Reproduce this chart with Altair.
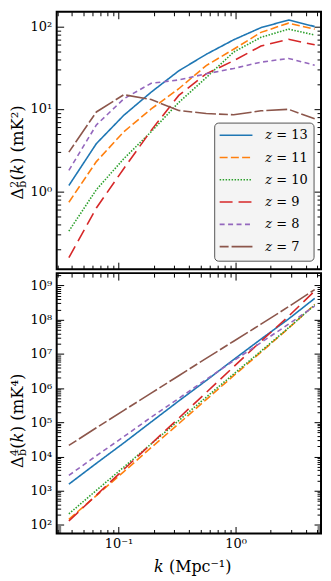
import altair as alt
import pandas as pd

# ---------------- data ----------------
k = [0.0376, 0.0646, 0.111, 0.190, 0.327, 0.561, 0.963, 1.65, 2.84, 4.75]
z_values = ["13", "11", "10", "9", "8", "7"]

delta2_z13 = [1.18, 3.8, 8.4, 16.0, 29.0, 46.0, 69.0, 97.0, 120.0, 100.0]
delta2_z11 = [0.74, 2.3, 5.3, 10.0, 17.6, 33.6, 53.0, 85.0, 110.0, 93.0]
delta2_z10 = [0.33, 1.05, 2.5, 5.3, 12.0, 24.0, 49.0, 74.0, 93.0, 79.0]
delta2_z9 = [0.157, 0.63, 1.9, 5.5, 14.6, 26.7, 38.5, 58.0, 70.0, 60.0]
delta2_z8 = [1.8, 6.4, 13.3, 20.5, 22.5, 26.7, 31.0, 37.0, 41.0, 34.0]
delta2_z7 = [3.0, 9.2, 14.9, 13.0, 9.6, 8.8, 8.5, 9.5, 9.9, 7.6]

delta4_z13 = [1.55e3, 6.3e3, 2.5e4, 1.02e5, 4.2e5, 1.66e6, 6.8e6, 2.7e7, 1.05e8, 4.2e8]
delta4_z11 = [1.45e2, 7.2e2, 3.6e3, 1.82e4, 9.1e4, 4.6e5, 2.3e6, 1.12e7, 5.6e7, 2.8e8]
delta4_z10 = [2.1e2, 1.02e3, 4.9e3, 2.34e4, 1.12e5, 5.4e5, 2.57e6, 1.2e7, 5.8e7, 2.7e8]
delta4_z9 = [1.3e2, 7.4e2, 4.2e3, 2.34e4, 1.32e5, 7.4e5, 4.2e6, 2.34e7, 1.26e8, 6.9e8]
delta4_z8 = [2.8e3, 1.05e4, 3.8e4, 1.41e5, 5.0e5, 1.78e6, 6.3e6, 2.14e7, 7.4e7, 2.5e8]
delta4_z7 = [2.1e4, 6.9e4, 2.24e5, 7.1e5, 2.3e6, 7.4e6, 2.34e7, 7.4e7, 2.4e8, 7.6e8]

x_major = [0.1, 1.0]
top_y_major = [1.0, 10.0, 100.0]
bot_y_major = [1e2, 1e3, 1e4, 1e5, 1e6, 1e7, 1e8, 1e9]

# ---------------- styles ----------------
colors = ["#1f77b4", "#ff7f0e", "#2ca02c", "#d62728", "#9467bd", "#8c564b"]
dashes = [[1, 0], [8, 3.3], [1.5, 1.5], [13, 6], [5, 3.5], [9, 3, 21, 3]]
FONT = "DejaVu Serif"
W = 266
H_TOP = 259
H_BOT = 262
X_DOMAIN = [0.02958, 5.38]
TOP_DOMAIN = [0.114, 151]
BOT_DOMAIN = [56, 2.3e9]


def long_table(tables):
    rows = []
    for z, vals in zip(z_values, tables):
        for kk, v in zip(k, vals):
            rows.append({"k": kk, "v": v, "z": z})
    return pd.DataFrame(rows)


def minors(lo, hi, e0, e1):
    out = []
    for e in range(e0, e1 + 1):
        for m in range(2, 10):
            v = m * 10.0 ** e
            if lo <= v <= hi:
                out.append(v)
    return out


df2 = long_table([delta2_z13, delta2_z11, delta2_z10, delta2_z9, delta2_z8, delta2_z7])
df4 = long_table([delta4_z13, delta4_z11, delta4_z10, delta4_z9, delta4_z8, delta4_z7])

x_minor = minors(X_DOMAIN[0], X_DOMAIN[1], -2, 0)
top_y_minor = minors(TOP_DOMAIN[0], TOP_DOMAIN[1], -1, 2)
bot_y_minor = minors(BOT_DOMAIN[0], BOT_DOMAIN[1], 1, 9)

SUP = ("['10⁻²','10⁻¹','10⁰','10¹','10²','10³','10⁴','10⁵','10⁶','10⁷','10⁸','10⁹']"
       "[round(log(datum.value)/LN10)+2]")

color_scale = alt.Scale(domain=z_values, range=colors)
dash_scale = alt.Scale(domain=z_values, range=dashes)
one = pd.DataFrame({"_": [0]})


def axis(orient, values, size, labels=False, pad=5):
    # negative tick size (via expression) draws the ticks inward
    kw = dict(orient=orient, values=values, tickSize=alt.ExprRef(expr=str(-size)),
              tickWidth=1, tickColor="black", domain=False, grid=False,
              labels=labels, title=None, ticks=True, minExtent=0)
    if labels:
        kw.update(labelExpr=SUP, labelFont=FONT, labelFontSize=13,
                  labelColor="black", labelPadding=pad + size, labelFlush=False,
                  labelOverlap=False, labelBound=False)
    return alt.Axis(**kw)


def text_piece(txt, x, y, size, style="normal", angle=0, align="left", baseline="alphabetic"):
    return alt.Chart(one).mark_text(
        text=txt, font=FONT, fontSize=size, fontStyle=style, angle=angle,
        align=align, baseline=baseline, color="black"
    ).encode(x=alt.value(x), y=alt.value(y))


def ytitle(start_y, exp_digit, exp_sup):
    bx = -33.5
    F = 16.5
    s = 11
    layers = []
    y = start_y
    layers.append(text_piece("Δ", bx, y, F, angle=270))
    y -= 0.72 * F
    layers.append(text_piece(exp_digit, bx - 5.0, y, s, angle=270))
    layers.append(text_piece("b", bx + 3.0, y, s, angle=270))
    y -= 0.66 * s
    layers.append(text_piece("(", bx, y, F, angle=270))
    y -= 0.39 * F
    layers.append(text_piece("k", bx, y, F, style="italic", angle=270))
    y -= 0.62 * F
    layers.append(text_piece(") (mK" + exp_sup + ")", bx, y, F, angle=270))
    return layers


def panel(df, ys, ymaj, ymin, height, x_labels, extra):
    base = alt.Chart(df)
    xs = alt.Scale(type="log", domain=X_DOMAIN)
    lines = base.mark_line(strokeWidth=1.6).encode(
        x=alt.X("k:Q", scale=xs, axis=axis("bottom", x_major, 7, labels=x_labels, pad=4)),
        y=alt.Y("v:Q", scale=ys, axis=axis("left", ymaj, 7, labels=True, pad=5)),
        color=alt.Color("z:N", scale=color_scale, legend=None),
        strokeDash=alt.StrokeDash("z:N", scale=dash_scale, legend=None),
    )
    l2 = base.mark_line(opacity=0).encode(
        x=alt.X("k:Q", scale=xs, axis=axis("bottom", x_minor, 4)),
        y=alt.Y("v:Q", scale=ys, axis=axis("left", ymin, 4)),
        detail="z:N",
    )
    l3 = base.mark_line(opacity=0).encode(
        x=alt.X("k:Q", scale=xs, axis=axis("top", x_major, 7)),
        y=alt.Y("v:Q", scale=ys, axis=axis("right", ymaj, 7)),
        detail="z:N",
    )
    l4 = base.mark_line(opacity=0).encode(
        x=alt.X("k:Q", scale=xs, axis=axis("top", x_minor, 4)),
        y=alt.Y("v:Q", scale=ys, axis=axis("right", ymin, 4)),
        detail="z:N",
    )
    return alt.layer(lines, l2, l3, l4, *extra).resolve_axis(
        x="independent", y="independent"
    ).properties(width=W, height=height)


# ---------------- legend (top panel) ----------------
LX = 159
leg = pd.DataFrame({
    "z": z_values,
    "ly": [124.3 + 22.4 * i for i in range(len(z_values))],
    "lab": ["= " + z for z in z_values],
})
legend_box = alt.Chart(one).mark_rect(
    fill="#f4f4f4", stroke="#555555", strokeWidth=1, cornerRadius=4
).encode(x=alt.value(LX), x2=alt.value(LX + 100), y=alt.value(112), y2=alt.value(251))
legend_lines = alt.Chart(leg).mark_rule(strokeWidth=1.6).encode(
    x=alt.value(LX + 5), x2=alt.value(LX + 38),
    y=alt.Y("ly:Q", scale=None, axis=None),
    color=alt.Color("z:N", scale=color_scale, legend=None),
    strokeDash=alt.StrokeDash("z:N", scale=dash_scale, legend=None),
)
legend_z = alt.Chart(leg).mark_text(
    text="z", font=FONT, fontSize=13, fontStyle="italic", align="left",
    baseline="middle", color="black"
).encode(x=alt.value(LX + 51), y=alt.Y("ly:Q", scale=None, axis=None))
legend_lab = alt.Chart(leg).mark_text(
    font=FONT, fontSize=13, align="left", baseline="middle", color="black"
).encode(x=alt.value(LX + 62), y=alt.Y("ly:Q", scale=None, axis=None), text="lab:N")

top = panel(
    df2, alt.Scale(type="log", domain=TOP_DOMAIN), top_y_major, top_y_minor, H_TOP, False,
    ytitle(189, "2", "²") + [legend_box, legend_lines, legend_z, legend_lab],
)

xtitle = [
    text_piece("k", 98, 301, 16, style="italic"),
    text_piece("(Mpc⁻¹)", 113, 301, 16),
]
bottom = panel(
    df4, alt.Scale(type="log", domain=BOT_DOMAIN), bot_y_major, bot_y_minor, H_BOT, True,
    ytitle(196, "4", "⁴") + xtitle,
)

chart = alt.vconcat(top, bottom, spacing=0).properties(
    padding={"left": 0, "top": 0, "right": 0, "bottom": 0}
).configure(font=FONT).configure_view(stroke="black", strokeWidth=2)

chart.save("out.html", embed_options={"renderer": "svg", "actions": False})
